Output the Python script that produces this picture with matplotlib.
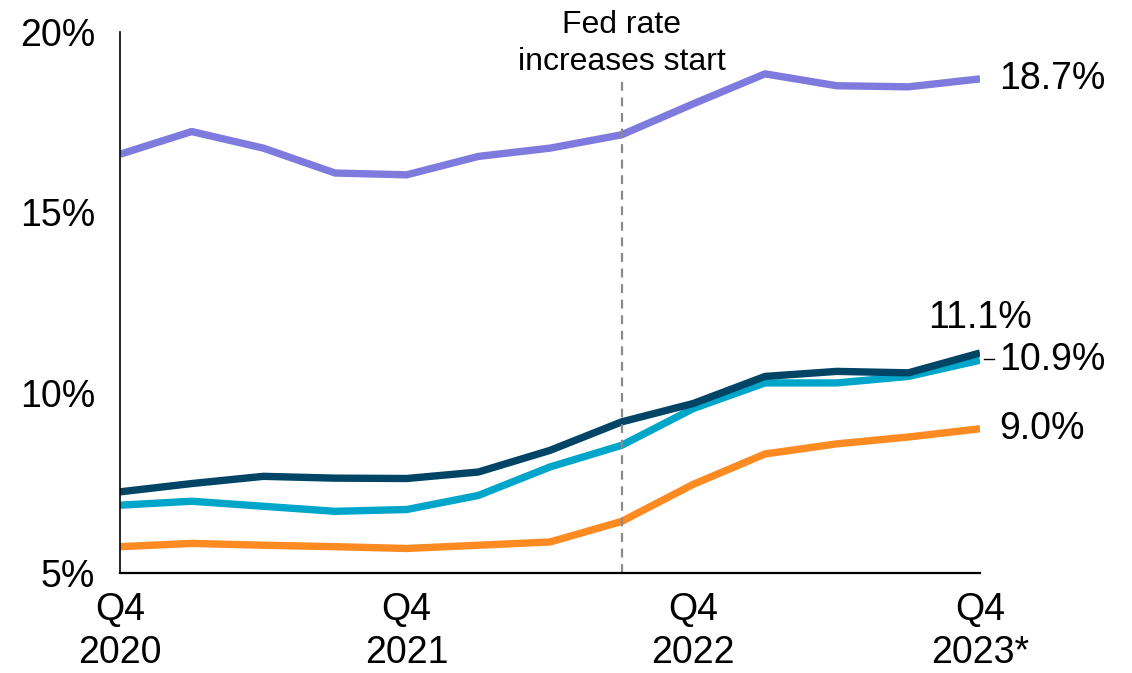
import numpy as np
import matplotlib
matplotlib.use("Agg")
import matplotlib.pyplot as plt

plt.rcParams["font.family"] = ["Liberation Sans", "DejaVu Sans"]

# Quarterly rates, Q4 2020 .. Q4 2023
quarters = list(range(13))
purple = [16.61, 17.24, 16.78, 16.09, 16.04, 16.55, 16.78, 17.15, 18.01, 18.84, 18.51, 18.48, 18.7]
navy = [7.25, 7.48, 7.68, 7.63, 7.62, 7.80, 8.40, 9.19, 9.70, 10.45, 10.59, 10.55, 11.1]
cyan = [6.88, 6.99, 6.85, 6.71, 6.76, 7.15, 7.94, 8.54, 9.56, 10.27, 10.27, 10.45, 10.9]
orange = [5.73, 5.82, 5.77, 5.73, 5.68, 5.77, 5.86, 6.43, 7.46, 8.30, 8.58, 8.77, 9.0]

tick_pos = [0, 4, 8, 12]
tick_labels = ["Q4\n2020", "Q4\n2021", "Q4\n2022", "Q4\n2023*"]
y_ticks = [5, 10, 15, 20]
fed_start = 7

fig = plt.figure(figsize=(11.32, 6.73), dpi=100)
ax = fig.add_axes([120/1132, 100/673, 860/1132, 541/673])

lw = 5.3
ax.plot(quarters, purple, color="#7f7bde", lw=lw, solid_capstyle="butt")
ax.plot(quarters, orange, color="#fe8a22", lw=lw, solid_capstyle="butt")
ax.plot(quarters, cyan, color="#00a6c9", lw=lw, solid_capstyle="butt")
ax.plot(quarters, navy, color="#004466", lw=lw, solid_capstyle="butt")

ax.plot([fed_start, fed_start], [5, 18.72], color="#8a8a8a", lw=1.6, ls=(0, (4, 3)))
ax.text(fed_start, 20.6, "Fed rate\nincreases start", ha="center", va="top",
        fontsize=23, linespacing=1.3)

ax.set_xlim(0, 12)
ax.set_ylim(5, 20)
ax.set_xticks(tick_pos)
ax.set_xticklabels(tick_labels, fontsize=27, linespacing=1.25)
ax.set_yticks(y_ticks)
ax.set_yticklabels([f"{v}%" for v in y_ticks], fontsize=27)
ax.tick_params(length=0)
ax.tick_params(axis="x", pad=14)
ax.tick_params(axis="y", pad=18)
for s in ["top", "right"]:
    ax.spines[s].set_visible(False)
ax.spines["left"].set_linewidth(1.2)
ax.spines["bottom"].set_linewidth(1.6)

# end-of-series labels
fs = 27
ax.annotate(f"{purple[-1]:.1f}%", (12, purple[-1]), xytext=(14, 0), textcoords="offset points",
            va="center", fontsize=fs)
ax.annotate(f"{navy[-1]:.1f}%", (12, navy[-1]), xytext=(-37, 12), textcoords="offset points",
            va="bottom", ha="left", fontsize=fs)
ax.annotate(f"{cyan[-1]:.1f}%", (12, cyan[-1]), xytext=(14, 0), textcoords="offset points",
            va="center", fontsize=fs)
ax.plot([12.05, 12.2], [cyan[-1] + 0.02, cyan[-1] + 0.02], color="black", lw=1, clip_on=False)
ax.annotate(f"{orange[-1]:.1f}%", (12, orange[-1]), xytext=(14, 0), textcoords="offset points",
            va="center", fontsize=fs)

fig.savefig("out.png", dpi=100)
